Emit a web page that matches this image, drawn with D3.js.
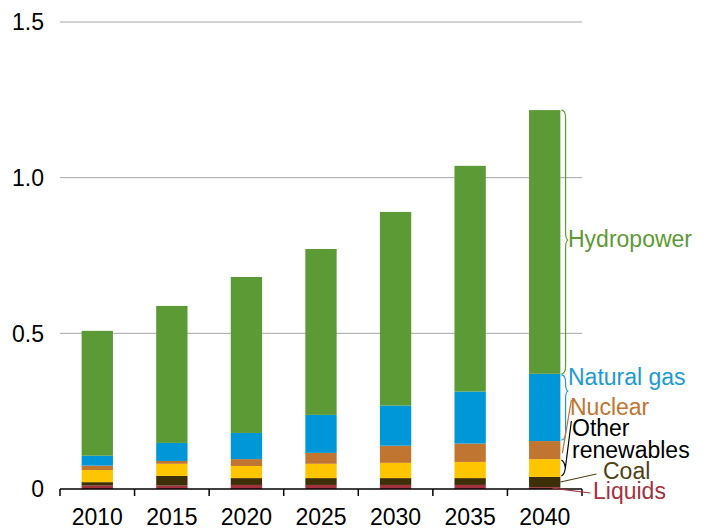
<!DOCTYPE html>
<html><head><meta charset="utf-8">
<script src="https://cdn.jsdelivr.net/npm/d3@7"></script>
<style>body{margin:0;background:#fff}svg{display:block}text{font-family:"Liberation Sans",Arial,sans-serif}</style>
</head><body><svg id="c" width="709" height="529"></svg>
<script>
const years = ["2010","2015","2020","2025","2030","2035","2040"];
const seriesNames = ["Liquids","Coal","Other renewables","Nuclear","Natural gas","Hydropower"];
const liquids   = [0.011,0.011,0.013,0.013,0.013,0.013,0.006];
const coal      = [0.011,0.031,0.022,0.022,0.022,0.022,0.033];
const otherRen  = [0.039,0.039,0.039,0.046,0.049,0.052,0.057];
const nuclear   = [0.014,0.009,0.022,0.035,0.055,0.059,0.058];
const naturalGas= [0.032,0.058,0.084,0.122,0.129,0.167,0.216];
const hydro     = [0.401,0.440,0.501,0.533,0.622,0.725,0.847];
const yTicks = [0,0.5,1.0,1.5];
const yTickLabels = ["0","0.5","1.0","1.5"];

const colors = ["#a4323e","#3d2f08","#ffc600","#c07530","#0097d9","#5c9a35"];
const labelColors = ["#a4323e","#4f4214","#000000","#c07530","#1a9ad6","#5c9a35"];

const seriesVals = [liquids,coal,otherRen,nuclear,naturalGas,hydro];
const table = years.map((y,i)=>{const o={year:y}; seriesNames.forEach((s,j)=>o[s]=seriesVals[j][i]); return o;});
const stacked = d3.stack().keys(seriesNames)(table);

const svg = d3.select("#c");
const x = d3.scaleBand().domain(years).range([60,582]).padding(0);
const y = d3.scaleLinear().domain([0,1.5]).range([489,22]);
const barW = x.bandwidth()*0.42;
const FS = 23;

// grid
svg.append("g").selectAll("line").data(yTicks.filter(d=>d>0)).join("line")
  .attr("x1",60).attr("x2",582).attr("y1",d=>y(d)).attr("y2",d=>y(d))
  .attr("stroke","#a6a6a6").attr("stroke-width",1);

// y labels
svg.append("g").selectAll("text").data(yTicks).join("text")
  .attr("x",44).attr("y",d=>y(d)).attr("dy","0.36em").attr("text-anchor","end")
  .attr("font-size",FS).attr("fill","#000").text((d,i)=>yTickLabels[i]);

// bars
svg.append("g").selectAll("g").data(stacked).join("g")
  .attr("fill",(d,i)=>colors[i])
  .selectAll("rect").data(d=>d).join("rect")
  .attr("x",d=>x(d.data.year)+(x.bandwidth()-barW)/2)
  .attr("width",barW)
  .attr("y",d=>y(d[1]))
  .attr("height",d=>y(d[0])-y(d[1]));

// x axis
const ax = svg.append("g");
ax.append("line").attr("x1",60).attr("x2",582).attr("y1",y(0)).attr("y2",y(0)).attr("stroke","#000").attr("stroke-width",1.5);
const bounds = years.map(d=>x(d)).concat([x(years[years.length-1])+x.bandwidth()]);
ax.selectAll("line.t").data(bounds).join("line").attr("class","t")
  .attr("x1",d=>d).attr("x2",d=>d).attr("y1",y(0)).attr("y2",y(0)+7).attr("stroke","#000").attr("stroke-width",1.5);
ax.selectAll("text").data(years).join("text")
  .attr("x",d=>x(d)+x.bandwidth()/2).attr("y",525).attr("text-anchor","middle")
  .attr("font-size",FS).attr("fill","#000").text(d=>d);

// annotations for last bar
const last = years.length-1;
const bx = x(years[last])+(x.bandwidth()+barW)/2; // right edge of last bar
const seg = i => [y(stacked[i][last][0]), y(stacked[i][last][1])]; // [bottom, top] pixel

function brace(x0, top, bot, tipY, depth){
  const xm = x0+depth*0.6, xt = x0+depth;
  return `M${x0},${top} Q${xm},${top} ${xm},${top+8} L${xm},${tipY-8} Q${xm},${tipY} ${xt},${tipY} Q${xm},${tipY} ${xm},${tipY+8} L${xm},${bot-8} Q${xm},${bot} ${x0},${bot}`;
}
const ann = svg.append("g").attr("fill","none").attr("stroke-width",1.2);
let s = seg(5);
ann.append("path").attr("d",brace(bx+1,s[1],s[0],240,7)).attr("stroke",colors[5]);
s = seg(4);
ann.append("path").attr("d",brace(bx+1,s[1]+1,s[0]-1,391,7)).attr("stroke",labelColors[4]);
s = seg(3);
ann.append("path").attr("d",`M${bx+2},${(s[0]+s[1])/2+3} L${bx+11},400`).attr("stroke",labelColors[3]);
s = seg(2);
ann.append("path").attr("d",`M${bx+1},${s[1]+1} Q${bx+4},${s[1]+2} ${bx+5},${(s[0]+s[1])/2} Q${bx+4},${s[0]-2} ${bx+1},${s[0]-1} M${bx+5},${(s[0]+s[1])/2} L${bx+11},421`).attr("stroke","#000");
s = seg(1);
ann.append("path").attr("d",`M${bx},${(s[0]+s[1])/2} L${bx+36},474`).attr("stroke",labelColors[1]);
s = seg(0);
ann.append("path").attr("d",`M${bx-8},${(s[0]+s[1])/2} L${bx+30},493`).attr("stroke",labelColors[0]);

const labels = [
  {t:["Hydropower"], x:568, y:247, c:5},
  {t:["Natural gas"], x:568, y:385, c:4},
  {t:["Nuclear"], x:570, y:415, c:3},
  {t:["Other","renewables"], x:572, y:436, c:2},
  {t:["Coal"], x:603, y:479, c:1},
  {t:["Liquids"], x:593, y:499, c:0}
];
const lg = svg.append("g");
labels.forEach(l=>{
  const t = lg.append("text").attr("x",l.x).attr("y",l.y).attr("font-size",FS).attr("fill",labelColors[l.c]);
  l.t.forEach((line,i)=>t.append("tspan").attr("x",l.x).attr("dy",i?21.5:0).text(line));
});
</script></body></html>
